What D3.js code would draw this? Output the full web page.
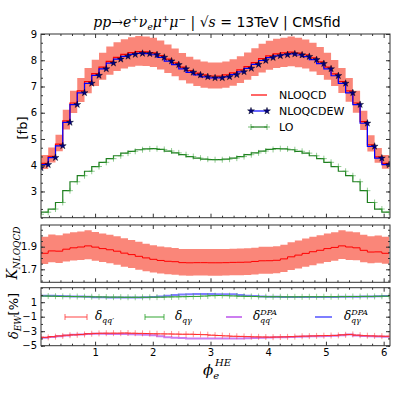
<!DOCTYPE html>
<html lang="en">
<head>
<meta charset="UTF-8">
<script src="https://cdnjs.cloudflare.com/ajax/libs/d3/7.8.5/d3.min.js"></script>
<style>
  html, body { margin: 0; padding: 0; background: #fff; }
  svg { display: block; }
  .tick text { font-family: "DejaVu Sans", sans-serif; font-size: 10px; fill: #000; }
  .tick line { stroke: #333; }
  .domain { display: none; }
</style>
</head>
<body>
<svg id="chart" width="399" height="399"></svg>
<script>
// bin centres of phi_e^HE (rad)
var phi = [0.063, 0.188, 0.314, 0.440, 0.565, 0.691, 0.817, 0.942, 1.068, 1.194,
           1.319, 1.445, 1.571, 1.696, 1.822, 1.948, 2.073, 2.199, 2.325, 2.450,
           2.576, 2.702, 2.827, 2.953, 3.079, 3.204, 3.330, 3.456, 3.581, 3.707,
           3.833, 3.958, 4.084, 4.210, 4.335, 4.461, 4.587, 4.712, 4.838, 4.964,
           5.089, 5.215, 5.341, 5.466, 5.592, 5.718, 5.843, 5.969, 6.095];

// [fb]
var lo = [2.13, 2.21, 2.33, 2.58, 3.03, 3.37, 3.60, 3.77, 3.95, 4.11,
          4.25, 4.36, 4.46, 4.53, 4.59, 4.62, 4.63, 4.60, 4.54, 4.47,
          4.40, 4.33, 4.27, 4.23, 4.21, 4.21, 4.23, 4.27, 4.33, 4.40,
          4.47, 4.54, 4.60, 4.63, 4.62, 4.59, 4.53, 4.46, 4.36, 4.25,
          4.11, 3.95, 3.77, 3.60, 3.37, 3.03, 2.58, 2.33, 2.21];

var nloQCD = [3.95, 4.07, 4.34, 4.80, 5.69, 6.37, 6.83, 7.19, 7.49, 7.74,
              7.96, 8.11, 8.22, 8.29, 8.33, 8.32, 8.28, 8.18, 8.04, 7.90,
              7.74, 7.61, 7.51, 7.44, 7.40, 7.40, 7.44, 7.52, 7.63, 7.76,
              7.91, 8.06, 8.17, 8.24, 8.28, 8.31, 8.27, 8.21, 8.09, 7.94,
              7.74, 7.48, 7.19, 6.83, 6.37, 5.66, 4.78, 4.32, 4.07];

var nloQCDEW = [3.90, 4.02, 4.29, 4.74, 5.63, 6.31, 6.76, 7.12, 7.42, 7.67,
                7.89, 8.04, 8.15, 8.22, 8.26, 8.25, 8.21, 8.11, 7.97, 7.83,
                7.67, 7.54, 7.44, 7.37, 7.33, 7.33, 7.37, 7.45, 7.56, 7.69,
                7.84, 7.99, 8.10, 8.17, 8.21, 8.24, 8.20, 8.14, 8.02, 7.87,
                7.67, 7.41, 7.12, 6.76, 6.31, 5.60, 4.72, 4.27, 4.02];

// scale variation of NLOQCD [%]
var scaleUp = [8.0, 7.9, 7.8, 7.6, 7.4, 7.3, 7.2, 7.2, 7.1, 7.1,
               7.1, 7.1, 7.1, 7.1, 7.1, 7.0, 7.0, 7.0, 7.0, 6.9,
               6.9, 6.9, 6.9, 6.9, 6.9, 6.9, 6.9, 6.9, 6.9, 6.9,
               6.9, 7.0, 7.0, 7.0, 7.0, 7.1, 7.1, 7.1, 7.1, 7.1,
               7.1, 7.1, 7.2, 7.2, 7.3, 7.4, 7.6, 7.8, 7.9];
var scaleDown = [5.0, 5.2, 5.4, 5.6, 5.8, 6.0, 6.1, 6.2, 6.3, 6.3,
                 6.4, 6.4, 6.5, 6.5, 6.5, 6.5, 6.5, 6.5, 6.5, 6.5,
                 6.5, 6.5, 6.5, 6.5, 6.5, 6.5, 6.5, 6.5, 6.5, 6.5,
                 6.5, 6.5, 6.5, 6.5, 6.5, 6.5, 6.5, 6.4, 6.4, 6.3,
                 6.3, 6.2, 6.1, 6.0, 5.8, 5.6, 5.4, 5.2, 5.0];

// EW corrections [%]
var dQQ = [-3.80, -3.85, -3.75, -3.65, -3.55, -3.50, -3.45, -3.35, -3.30, -3.28,
           -3.27, -3.27, -3.25, -3.28, -3.30, -3.32, -3.35, -3.37, -3.38, -3.40,
           -3.42, -3.42, -3.45, -3.48, -3.55, -3.60, -3.65, -3.70, -3.72, -3.75,
           -3.78, -3.80, -3.82, -3.80, -3.78, -3.75, -3.70, -3.68, -3.65, -3.62,
           -3.60, -3.58, -3.50, -3.45, -3.55, -3.62, -3.65, -3.68, -3.70];
var dQA = [1.85, 1.85, 1.83, 1.80, 1.80, 1.78, 1.76, 1.75, 1.73, 1.72,
           1.70, 1.70, 1.68, 1.68, 1.68, 1.68, 1.70, 1.70, 1.72, 1.74,
           1.76, 1.78, 1.80, 1.85, 1.90, 1.92, 1.90, 1.86, 1.82, 1.80,
           1.78, 1.76, 1.75, 1.75, 1.74, 1.74, 1.74, 1.75, 1.75, 1.75,
           1.76, 1.76, 1.77, 1.78, 1.78, 1.80, 1.80, 1.82, 1.83];
var dQQdpa = [-3.90, -3.90, -3.80, -3.70, -3.60, -3.50, -3.45, -3.38, -3.35, -3.35,
              -3.37, -3.38, -3.40, -3.42, -3.45, -3.48, -3.55, -3.70, -3.85, -3.90,
              -3.95, -4.00, -4.00, -4.00, -4.00, -4.00, -4.00, -4.00, -4.00, -3.98,
              -3.95, -3.90, -3.88, -3.85, -3.82, -3.80, -3.75, -3.72, -3.70, -3.68,
              -3.65, -3.62, -3.55, -3.45, -3.60, -3.65, -3.70, -3.72, -3.75];
var dQAdpa = [1.90, 1.90, 1.88, 1.85, 1.82, 1.80, 1.77, 1.74, 1.70, 1.68,
              1.66, 1.65, 1.65, 1.65, 1.66, 1.68, 1.72, 1.80, 1.90, 2.00,
              2.05, 2.10, 2.12, 2.12, 2.12, 2.10, 2.10, 2.08, 2.00, 1.90,
              1.85, 1.80, 1.76, 1.74, 1.72, 1.72, 1.72, 1.72, 1.72, 1.72,
              1.72, 1.73, 1.74, 1.75, 1.76, 1.78, 1.80, 1.82, 1.85];

var xTicks = [1, 2, 3, 4, 5, 6];
var topTicks = [3, 4, 5, 6, 7, 8, 9];
var kTicks = [1.7, 1.9];
var ewTicks = [1, -1, -3, -5];

var svg = d3.select("#chart");
var SERIF = "'DejaVu Serif', serif";
var SANS = "'DejaVu Sans', sans-serif";
var BAND = "#fa8072";
var STAR = 15;

var x = d3.scaleLinear().domain([0.063, 6.11]).range([41, 390]);
var yTop = d3.scaleLinear().domain([2, 9]).range([217.7, 34]);
var yK = d3.scaleLinear().domain([1.585, 2.092]).range([282.3, 225]);
var yEW = d3.scaleLinear().domain([-5, 3]).range([345.7, 287.7]);

var pts = phi.map(function (p, i) { return i; });

function stepLine(ys, vals) {
    return d3.line().curve(d3.curveStepBefore)
        .x(function (i) { return x(phi[i]); })
        .y(function (i) { return ys(vals[i]); });
}

function frame(ys, major, minor, labelled, xLabels) {
    var g = svg.append("g");
    var r = ys.range();
    var clip = "clip" + Math.round(r[1]);
    svg.append("clipPath").attr("id", clip).append("rect")
        .attr("x", 41).attr("y", r[1]).attr("width", 349).attr("height", r[0] - r[1]);
    var xMinor = d3.range(0.2, 6.11, 0.2).filter(function (v) { return Math.abs(v - Math.round(v)) > 0.01; });
    g.append("g").attr("transform", "translate(0," + r[0] + ")")
        .call(d3.axisBottom(x).tickValues(xTicks).tickSize(-4).tickPadding(3)
            .tickFormat(xLabels ? d3.format("d") : ""));
    g.append("g").attr("transform", "translate(0," + r[0] + ")")
        .call(d3.axisBottom(x).tickValues(xMinor).tickSize(-2).tickFormat(""));
    g.append("g").attr("transform", "translate(0," + r[1] + ")")
        .call(d3.axisTop(x).tickValues(xTicks).tickSize(-4).tickFormat(""));
    g.append("g").attr("transform", "translate(0," + r[1] + ")")
        .call(d3.axisTop(x).tickValues(xMinor).tickSize(-2).tickFormat(""));
    g.append("g").attr("transform", "translate(41,0)")
        .call(d3.axisLeft(ys).tickValues(major).tickSize(-4).tickPadding(4)
            .tickFormat(labelled));
    g.append("g").attr("transform", "translate(41,0)")
        .call(d3.axisLeft(ys).tickValues(minor).tickSize(-2).tickFormat(""));
    g.append("g").attr("transform", "translate(390,0)")
        .call(d3.axisRight(ys).tickValues(major).tickSize(-4).tickFormat(""));
    g.append("g").attr("transform", "translate(390,0)")
        .call(d3.axisRight(ys).tickValues(minor).tickSize(-2).tickFormat(""));
    g.append("rect").attr("x", 41).attr("y", r[1]).attr("width", 349).attr("height", r[0] - r[1])
        .attr("fill", "none").attr("stroke", "#333").attr("stroke-width", 1);
    return "url(#" + clip + ")";
}

function rich(t, parts) {
    parts.forEach(function (p) {
        var s = t.append("tspan").text(p.t);
        s.attr("font-family", p.sans ? SANS : SERIF);
        if (p.it) s.attr("font-style", "italic");
        if (p.fs) s.attr("font-size", p.fs);
        if (p.dy) s.attr("dy", p.dy);
    });
    return t;
}

function plusMarks(g, ys, vals, color, size) {
    g.selectAll(null).data(pts).join("path")
        .attr("d", function (i) {
            var cx = x(phi[i]), cy = ys(vals[i]);
            return "M" + (cx - size) + "," + cy + "H" + (cx + size) + "M" + cx + "," + (cy - size) + "V" + (cy + size);
        })
        .attr("stroke", color).attr("stroke-width", 1).attr("fill", "none");
}

// ---------- top panel ----------
var clipTop = frame(yTop, topTicks, d3.range(2, 9.01, 1 / 3), d3.format("d"), false);
var gTop = svg.insert("g", "g").attr("clip-path", clipTop);

gTop.append("path").datum(pts)
    .attr("d", d3.area().curve(d3.curveStepBefore)
        .x(function (i) { return x(phi[i]); })
        .y0(function (i) { return yTop(nloQCD[i] * (1 - scaleDown[i] / 100)); })
        .y1(function (i) { return yTop(nloQCD[i] * (1 + scaleUp[i] / 100)); }))
    .attr("fill", BAND).attr("opacity", 0.95);
gTop.append("path").datum(pts).attr("d", stepLine(yTop, nloQCD))
    .attr("fill", "none").attr("stroke", "#ff0000").attr("stroke-width", 1.2);
gTop.append("path").datum(pts).attr("d", stepLine(yTop, nloQCDEW))
    .attr("fill", "none").attr("stroke", "#0000ff").attr("stroke-width", 1.2);
gTop.selectAll(null).data(pts).join("path")
    .attr("d", d3.symbol(d3.symbolStar).size(STAR))
    .attr("transform", function (i) { return "translate(" + x(phi[i]) + "," + yTop(nloQCDEW[i]) + ")"; })
    .attr("fill", "#000080").attr("stroke", "#000").attr("stroke-width", 0.4);
gTop.append("path").datum(pts).attr("d", stepLine(yTop, lo))
    .attr("fill", "none").attr("stroke", "#1f7f1f").attr("stroke-width", 1.2);
plusMarks(gTop, yTop, lo, "rgba(60,160,60,0.55)", 3);

// legend
var leg = svg.append("g").attr("font-family", SANS).attr("font-size", 11);
var legY = [95, 111, 127];
leg.append("line").attr("x1", 251).attr("x2", 267).attr("y1", legY[0]).attr("y2", legY[0])
    .attr("stroke", "#ff0000").attr("stroke-width", 1.2);
leg.append("line").attr("x1", 251).attr("x2", 267).attr("y1", legY[1]).attr("y2", legY[1])
    .attr("stroke", "#0000ff").attr("stroke-width", 1.2);
[251, 267].forEach(function (lx) {
    leg.append("path").attr("d", d3.symbol(d3.symbolStar).size(STAR))
        .attr("transform", "translate(" + lx + "," + legY[1] + ")")
        .attr("fill", "#000080").attr("stroke", "#000").attr("stroke-width", 0.4);
    leg.append("path").attr("d", "M" + (lx - 3) + "," + legY[2] + "H" + (lx + 3) + "M" + lx + "," + (legY[2] - 3) + "V" + (legY[2] + 3))
        .attr("stroke", "rgba(60,160,60,0.7)");
});
leg.append("line").attr("x1", 251).attr("x2", 267).attr("y1", legY[2]).attr("y2", legY[2])
    .attr("stroke", "#1f7f1f").attr("stroke-width", 1.2);
["NLOQCD", "NLOQCDEW", "LO"].forEach(function (s, k) {
    leg.append("text").attr("x", 279).attr("y", legY[k] + 4).text(s);
});

// ---------- K-factor panel ----------
var kMinor = d3.range(1.6, 2.09, 0.05);
var clipK = frame(yK, kTicks, kMinor, d3.format(".1f"), false);
var gK = svg.insert("g", "g").attr("clip-path", clipK);
gK.append("path").datum(pts)
    .attr("d", d3.area().curve(d3.curveStepBefore)
        .x(function (i) { return x(phi[i]); })
        .y0(function (i) { return yK(nloQCD[i] / lo[i] * (1 - scaleDown[i] / 100)); })
        .y1(function (i) { return yK(nloQCD[i] / lo[i] * (1 + scaleUp[i] / 100)); }))
    .attr("fill", BAND).attr("opacity", 0.95);
gK.append("path").datum(pts)
    .attr("d", d3.line().curve(d3.curveStepBefore)
        .x(function (i) { return x(phi[i]); })
        .y(function (i) { return yK(nloQCD[i] / lo[i]); }))
    .attr("fill", "none").attr("stroke", "#ff0000").attr("stroke-width", 1);

// ---------- EW panel ----------
var clipEW = frame(yEW, ewTicks, d3.range(-5, 3.01, 1), function (d) { return d3.format("d")(d).replace("-", "\u2212"); }, true);
var gEW = svg.insert("g", "g").attr("clip-path", clipEW);
gEW.append("path").datum(pts).attr("d", stepLine(yEW, dQQdpa))
    .attr("fill", "none").attr("stroke", "rgba(170,40,230,0.6)").attr("stroke-width", 2);
gEW.append("path").datum(pts).attr("d", stepLine(yEW, dQAdpa))
    .attr("fill", "none").attr("stroke", "rgba(40,40,255,0.6)").attr("stroke-width", 2);
gEW.append("path").datum(pts).attr("d", stepLine(yEW, dQQ))
    .attr("fill", "none").attr("stroke", "#ff2020").attr("stroke-width", 1);
plusMarks(gEW, yEW, dQQ, "rgba(255,60,60,0.55)", 3);
gEW.append("path").datum(pts).attr("d", stepLine(yEW, dQA))
    .attr("fill", "none").attr("stroke", "#2a9a2a").attr("stroke-width", 1);
plusMarks(gEW, yEW, dQA, "rgba(60,170,60,0.55)", 3);

// EW legend
var ly = 317;
var ewLeg = [
    {x0: 65, x1: 87, tx: 95, c: "rgba(255,60,60,0.8)", plus: true, sub: "qq\u2032", sup: null},
    {x0: 145, x1: 164, tx: 175, c: "rgba(40,160,40,0.8)", plus: true, sub: "q\u03b3", sup: null},
    {x0: 226, x1: 242, tx: 253, c: "rgba(170,40,230,0.6)", plus: false, sub: "qq\u2032", sup: "DPA"},
    {x0: 315, x1: 332, tx: 344, c: "rgba(40,40,255,0.6)", plus: false, sub: "q\u03b3", sup: "DPA"}
];
ewLeg.forEach(function (e) {
    svg.append("line").attr("x1", e.x0).attr("x2", e.x1).attr("y1", ly).attr("y2", ly)
        .attr("stroke", e.c).attr("stroke-width", e.plus ? 1.2 : 2);
    if (e.plus) {
        [e.x0, e.x1].forEach(function (lx) {
            svg.append("path").attr("d", "M" + lx + "," + (ly - 3) + "V" + (ly + 3)).attr("stroke", e.c);
        });
    }
    var t = svg.append("text").attr("x", e.tx).attr("y", ly + 3).attr("font-size", 12);
    var parts = [{t: "\u03b4", it: true}];
    if (e.sup) parts.push({t: e.sup, it: true, fs: 8, dy: -5});
    rich(t, parts);
    var sub = svg.append("text").attr("x", e.tx + 7).attr("y", ly + 6).attr("font-size", 8);
    rich(sub, [{t: e.sub, it: true}]);
});

// ---------- texts ----------
var title = svg.append("text").attr("x", 217).attr("y", 27).attr("text-anchor", "middle").attr("font-size", 14);
rich(title, [
    {t: "pp", it: true}, {t: "\u2192"}, {t: "e", it: true}, {t: "+", fs: 9, dy: -5},
    {t: "\u03bd", it: true, dy: 5}, {t: "e", it: true, fs: 9, dy: 3}, {t: "\u03bc", it: true, dy: -3},
    {t: "+", fs: 9, dy: -5}, {t: "\u03bc", it: true, dy: 5}, {t: "\u2212", fs: 9, dy: -5},
    {t: " | \u221a", dy: 5}, {t: "s", it: true}, {t: " = "},
    {t: "13TeV | CMSfid", sans: true, fs: 14}
]);

svg.append("text").attr("transform", "translate(27,128) rotate(-90)")
    .attr("text-anchor", "middle").attr("font-family", SANS).attr("font-size", 13).text("[fb]");

var kl = svg.append("text").attr("transform", "translate(17,253) rotate(-90)")
    .attr("text-anchor", "middle").attr("font-size", 14);
rich(kl, [{t: "K", it: true}, {t: "NLOQCD", it: true, fs: 9, dy: 3}]);

var el = svg.append("text").attr("transform", "translate(18,316) rotate(-90)")
    .attr("text-anchor", "middle").attr("font-size", 13);
rich(el, [{t: "\u03b4", it: true}, {t: "EW", it: true, fs: 9, dy: 3}, {t: "[%]", sans: true, fs: 13, dy: -3}]);

var xl = svg.append("text").attr("x", 203).attr("y", 375).attr("font-size", 15);
rich(xl, [{t: "\u03d5", it: true}, {t: "e", it: true, fs: 10, dy: 4}]);
var xs = svg.append("text").attr("x", 215).attr("y", 366).attr("font-size", 10);
rich(xs, [{t: "HE", it: true}]);
</script>
</body>
</html>
